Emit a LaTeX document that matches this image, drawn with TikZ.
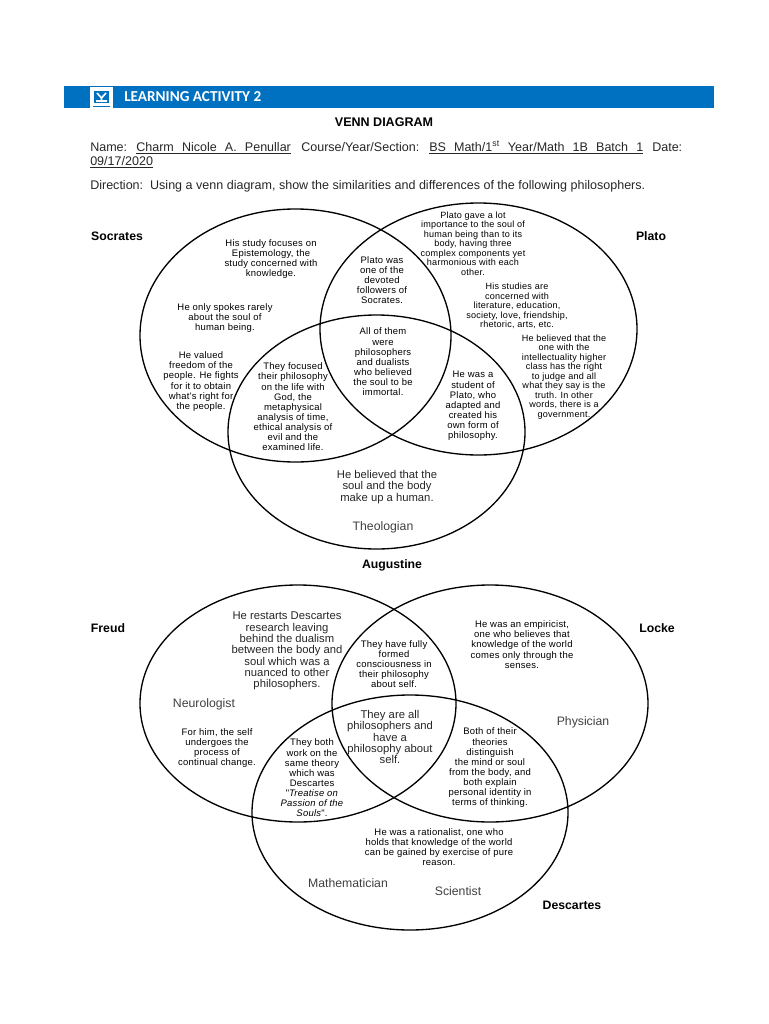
\documentclass[tikz,border=0pt]{standalone}
\usepackage{fontspec}
\setmainfont{Liberation Sans}
\newfontfamily\notefont[LetterSpace=2.5]{Liberation Sans}
\newfontfamily\headfont{Carlito}
\usetikzlibrary{shapes.geometric}
\definecolor{barblue}{HTML}{0070C0}
\tikzset{
	venn/.style 2 args={draw,ellipse,line width=1pt,inner sep=0pt,minimum width=#1*0.75pt,minimum height=#2*0.75pt},
	note/.style={align=center,inner sep=0pt,font=\notefont\fontsize{7.1}{7.6}\selectfont},
	tightnote/.style={align=center,inner sep=0pt,font=\notefont\fontsize{6.8}{7.1}\selectfont},
	bignote/.style={align=center,inner sep=0pt,text=black!85,font=\fontsize{8.45}{8.5}\selectfont},
	role/.style={inner sep=0pt,text=black!75,font=\fontsize{9.2}{10}\selectfont},
	person/.style={inner sep=0pt,font=\bfseries\fontsize{9.2}{10}\selectfont},
	line/.style={anchor=base west,inner sep=0pt,text=black!85,font=\fontsize{9.4}{11}\selectfont},
}
\begin{document}
\begin{tikzpicture}[x=0.75pt,y=-0.75pt]
	\useasboundingbox (0,0) rectangle (768,1024);
	% header
	\fill[barblue] (64,86) rectangle (714,108);
	\fill[white] (90,87) rectangle (113,110);
	\fill[barblue] (94,91) rectangle (109,103);
	\draw[white,line width=1.2pt] (97,93) -- (101.5,98) -- (106,93) (101.5,98) -- (101.5,102) (96,101) -- (107,101);
	\draw[barblue,line width=.6pt] (93,106) -- (110,106);
	\node[anchor=west,inner sep=0pt,text=white,font=\headfont\bfseries\fontsize{11.4}{12}\selectfont] (activity) at (124,97) {LEARNING ACTIVITY 2};
	\node[inner sep=0pt,font=\bfseries\fontsize{9.4}{11}\selectfont] (title) at (384,122) {VENN DIAGRAM};
	\node[line] (name) at (90,151.5) {Name:};
	\node[line] (student) at (136,151.5) {\underline{\makebox[116pt]{Charm\hfill Nicole\hfill A.\hfill Penullar}}};
	\node[line] (course) at (301,151.5) {Course/Year/Section:};
	\node[line] (section) at (429,151.5) {\underline{\makebox[160.5pt]{BS\hfill Math/1\textsuperscript{st}\hfill Year/Math\hfill 1B\hfill Batch\hfill 1}}};
	\node[line] (date) at (652,151.5) {Date:};
	\node[line] (datevalue) at (90,165.5) {\underline{09/17/2020}};
	\node[line] (direction) at (90,189.5) {Direction:\ \ Using a venn diagram, show the similarities and differences of the following philosophers.};
	% first diagram
	\node[venn={311}{253}] (socrates) at (295.5,335.5) {};
	\node[venn={317}{252}] (plato) at (478.5,329) {};
	\node[venn={297}{234}] (augustine) at (376.5,432) {};
	\node[person] (socrateslabel) at (117,236) {Socrates};
	\node[person] (platolabel) at (651,236) {Plato};
	\node[person] (augustinelabel) at (392,565) {Augustine};
	\node[note] (study) at (271,259) {His study focuses on\\Epistemology, the\\study concerned with\\knowledge.};
	\node[note] (spokes) at (225,318) {He only spokes rarely\\about the soul of\\human being.};
	\node[note] (freedom) at (201,381.5) {He valued\\freedom of the\\people. He fights\\for it to obtain\\what's right for\\the people.};
	\node[note] (focused) at (293,407) {They focused\\their philosophy\\on the life with\\God, the\\metaphysical\\analysis of time,\\ethical analysis of\\evil and the\\examined life.};
	\node[note] (devoted) at (382,280) {Plato was\\one of the\\devoted\\followers of\\Socrates.};
	\node[note] (allthem) at (383,362) {All of them\\were\\philosophers\\and dualists\\who believed\\the soul to be\\immortal.};
	\node[tightnote] (soul) at (473,243.5) {Plato gave a lot\\importance to the soul of\\human being than to its\\body, having three\\complex components yet\\harmonious with each\\other.};
	\node[tightnote] (studies) at (517,306) {His studies are\\concerned with\\literature, education,\\society, love, friendship,\\rhetoric, arts, etc.};
	\node[tightnote] (intellect) at (564,377) {He believed that the\\one with the\\intellectuality higher\\class has the right\\to judge and all\\what they say is the\\truth. In other\\words, there is a\\government.};
	\node[note] (pupil) at (473,406) {He was a\\student of\\Plato, who\\adapted and\\created his\\own form of\\philosophy.};
	\node[bignote] (human) at (387,487) {He believed that the\\soul and the body\\make up a human.};
	\node[role] (theologian) at (383,527) {Theologian};
	% second diagram
	\node[venn={316}{237}] (freud) at (298,703.5) {};
	\node[venn={316}{237}] (locke) at (490,703.5) {};
	\node[venn={316}{235}] (descartes) at (410,812.5) {};
	\node[person] (freudlabel) at (108,628) {Freud};
	\node[person] (lockelabel) at (657,628) {Locke};
	\node[person] (descarteslabel) at (572,905) {Descartes};
	\node[bignote] (restarts) at (287,651) {He restarts Descartes\\research leaving\\behind the dualism\\between the body and\\soul which was a\\nuanced to other\\philosophers.};
	\node[role] (neurologist) at (204,704) {Neurologist};
	\node[note] (change) at (217,748) {For him, the self\\undergoes the\\process of\\continual change.};
	\node[note] (theory) at (312,778) {They both\\work on the\\same theory\\which was\\Descartes\\"\textit{Treatise on}\\\textit{Passion of the}\\\textit{Souls}".};
	\node[note] (conscious) at (394,664) {They have fully\\formed\\consciousness in\\their philosophy\\about self.};
	\node[bignote] (allphil) at (390,737) {They are all\\philosophers and\\have a\\philosophy about\\self.};
	\node[note] (empiricist) at (522,644.5) {He was an empiricist,\\one who believes that\\knowledge of the world\\comes only through the\\senses.};
	\node[role] (physician) at (583,722) {Physician};
	\node[note] (theories) at (490,768) {Both of their\\theories\\distinguish\\the mind or soul\\from the body, and\\both explain\\personal identity in\\terms of thinking.};
	\node[note] (rationalist) at (439,847) {He was a rationalist, one who\\holds that knowledge of the world\\can be gained by exercise of pure\\reason.};
	\node[role] (mathematician) at (348,883) {Mathematician};
	\node[role] (scientist) at (458,891) {Scientist};
\end{tikzpicture}
\end{document}
